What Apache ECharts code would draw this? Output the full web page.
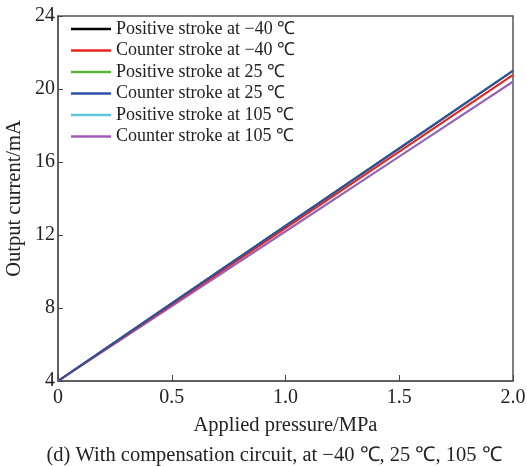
<!DOCTYPE html>
<html>
<head>
<meta charset="utf-8">
<script src="https://cdn.jsdelivr.net/npm/echarts@6/dist/echarts.min.js"></script>
<style>html,body{margin:0;padding:0;background:#fff}#c{width:527px;height:466px}</style>
</head>
<body>
<div id="c"></div>
<script>
const pressure = [0, 0.5, 1.0, 1.5, 2.0];
const posM40 = [4, 8.25, 12.5, 16.75, 21.0];
const cntM40 = [4, 8.19, 12.38, 16.57, 20.77];
const pos25 = [4, 8.25, 12.5, 16.75, 21.0];
const cnt25 = [4, 8.25, 12.5, 16.75, 21.0];
const pos105 = [4, 8.1, 12.2, 16.3, 20.4];
const cnt105 = [4, 8.1, 12.2, 16.3, 20.4];
const seriesNames = ['Positive stroke at −40 ℃','Counter stroke at −40 ℃','Positive stroke at 25 ℃','Counter stroke at 25 ℃','Positive stroke at 105 ℃','Counter stroke at 105 ℃'];
const seriesData = [posM40, cntM40, pos25, cnt25, pos105, cnt105];
const colors = ['#000000','#e8231c','#5bb33a','#2b50a8','#5cc8df','#a35bb8'];
const drawOrder = [0, 2, 4, 5, 1, 3];

const font = '"Liberation Serif", "Times New Roman", serif';
const chart = echarts.init(document.getElementById('c'));
const series = drawOrder.map(i => ({
  name: seriesNames[i], type: 'line', symbol: 'none', z: 2,
  data: pressure.map((p, k) => [p, seriesData[i][k]]),
  lineStyle: { color: colors[i], width: 2 }, itemStyle: { color: colors[i] }
}));
chart.setOption({
  animation: false,
  title: {
    text: '(d) With compensation circuit, at −40 ℃, 25 ℃, 105 ℃',
    left: 269, textAlign: 'center', top: 440,
    textStyle: { fontFamily: font, fontSize: 20.5, fontWeight: 'normal', color: '#222' }
  },
  legend: {
    data: seriesNames.map(n => ({ name: n, icon: 'rect' })),
    orient: 'vertical', left: 66, top: 15,
    itemWidth: 40, itemHeight: 2.5, itemGap: 3.5,
    textStyle: { fontFamily: font, fontSize: 18, color: '#222' }
  },
  grid: { left: 58, right: 14, top: 16, bottom: 85, containLabel: false, outerBoundsMode: 'none',
    show: true, borderColor: '#555', borderWidth: 1.5 },
  xAxis: {
    type: 'value', min: 0, max: 2, interval: 0.5,
    name: 'Applied pressure/MPa', nameLocation: 'middle', nameGap: 34,
    nameTextStyle: { fontFamily: font, fontSize: 20.5, color: '#222' },
    axisLine: { lineStyle: { color: '#555', width: 1.5 } },
    axisTick: { inside: true, length: 6, lineStyle: { color: '#444' } },
    splitLine: { show: false },
    axisLabel: { fontFamily: font, fontSize: 20, color: '#222', margin: 7,
      formatter: v => v === 0 ? '0' : v.toFixed(1) }
  },
  yAxis: {
    type: 'value', min: 4, max: 24, interval: 4,
    name: 'Output current/mA', nameLocation: 'middle', nameGap: 33, nameMoveOverlap: false,
    nameTextStyle: { fontFamily: font, fontSize: 20.5, color: '#222' },
    axisLine: { lineStyle: { color: '#555', width: 1.5 } },
    axisTick: { inside: true, length: 5, lineStyle: { color: '#444' } },
    splitLine: { show: false },
    axisLabel: { fontFamily: font, fontSize: 20, color: '#222', margin: 3 }
  },
  series: series
});
</script>
</body>
</html>
